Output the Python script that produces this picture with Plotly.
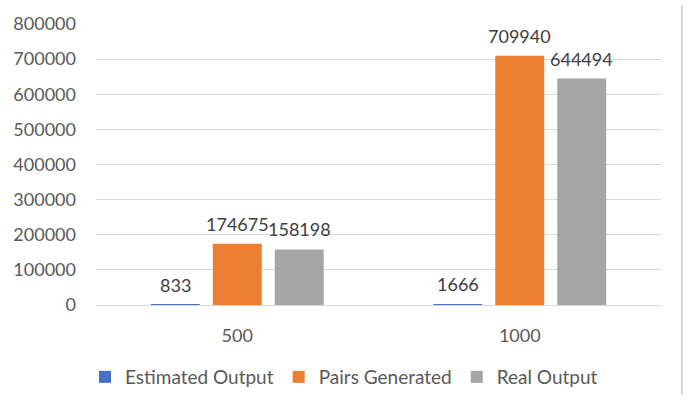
import plotly.graph_objects as go

categories = ["500", "1000"]
series_names = ["Estimated Output", "Pairs Generated", "Real Output"]
estimated_output = [833, 1666]
pairs_generated = [174675, 709940]
real_output = [158198, 644494]
colors = ["#4472C4", "#ED7D31", "#A5A5A5"]
y_ticks = [0, 100000, 200000, 300000, 400000, 500000, 600000, 700000, 800000]

FONT = "Lato, 'Open Sans', sans-serif"
BARGAP = 0.342
GROUPGAP = 0.21

all_series = [estimated_output, pairs_generated, real_output]

fig = go.Figure()
for name, vals, col in zip(series_names, all_series, colors):
    fig.add_trace(go.Bar(
        x=categories, y=vals, name=name,
        marker=dict(color=col, line=dict(width=0)),
        cliponaxis=False,
    ))

# data labels, placed over each bar through the axis scales
slot = (1 - BARGAP) / len(all_series)
for si, vals in enumerate(all_series):
    for ci, v in enumerate(vals):
        fig.add_annotation(
            x=ci + (si - (len(all_series) - 1) / 2) * slot, y=v,
            xref="x", yref="y", text=str(v), showarrow=False,
            yanchor="bottom", xanchor="center", yshift=7,
            font=dict(family=FONT, size=18, color="#404040"),
        )

fig.update_layout(
    width=688, height=400,
    margin=dict(l=96, r=27, t=19, b=92),
    paper_bgcolor="white", plot_bgcolor="white",
    barmode="group", bargap=BARGAP, bargroupgap=GROUPGAP,
    font=dict(family=FONT, color="#595959"),
    showlegend=True,
    legend=dict(orientation="h", xref="container", yref="container",
                x=0.5, xanchor="center", y=0.0575, yanchor="middle",
                font=dict(family=FONT, size=19, color="#595959"),
                itemwidth=30, traceorder="normal"),
    xaxis=dict(type="category", showgrid=False, showline=False, zeroline=False,
               ticks="", tickfont=dict(family=FONT, size=18, color="#595959"),
               ticklabelstandoff=18),
    yaxis=dict(range=[0, 800000], tickvals=y_ticks, ticktext=[str(v) for v in y_ticks],
               showgrid=True, gridcolor="#D9D9D9", gridwidth=1,
               zeroline=True, zerolinecolor="#D9D9D9", zerolinewidth=1,
               showline=False, ticks="",
               tickfont=dict(family=FONT, size=18, color="#595959"),
               ticklabelstandoff=19),
)
fig.add_shape(type="line", xref="paper", yref="paper", layer="above",
              x0=1.037, x1=1.037, y0=-0.32, y1=1.066,
              line=dict(color="#C8C8C8", width=1.5))

fig.write_html("out.html")
